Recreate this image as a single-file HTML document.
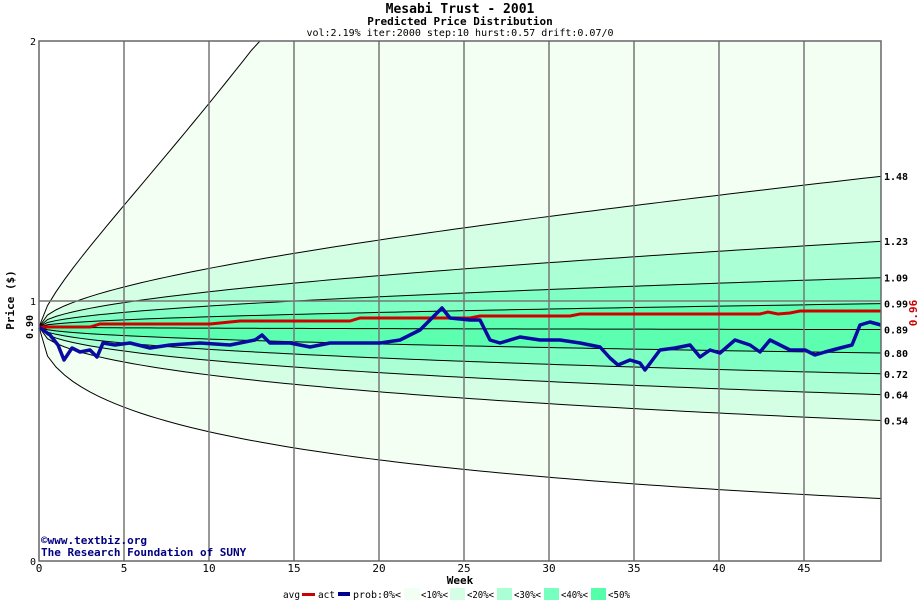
<!DOCTYPE html>
<html><head><meta charset="utf-8"><style>
body{margin:0;background:#fff;width:920px;height:600px;overflow:hidden}
text{font-family:"DejaVu Sans Mono","Liberation Mono",monospace}
</style></head><body>
<svg id="s" width="920" height="600" xmlns="http://www.w3.org/2000/svg">
<text x="460" y="13" text-anchor="middle" font-size="13" font-weight="bold">Mesabi Trust - 2001</text>
<text x="460" y="25" text-anchor="middle" font-size="11" font-weight="bold">Predicted Price Distribution</text>
<text x="460" y="36" text-anchor="middle" font-size="10">vol:2.19% iter:2000 step:10 hurst:0.57 drift:0.07/0</text>
<g id="bands"></g>
<g id="grid" stroke="#777" stroke-width="1.5"></g>
<polyline id="avg" fill="none" stroke="#d00000" stroke-width="3"/>
<polyline id="act" fill="none" stroke="#0a0aa0" stroke-width="3.5" stroke-linejoin="round"/>
<rect x="39" y="41" width="842" height="520" fill="none" stroke="#666" stroke-width="1.5"/>
<g font-size="10" font-weight="bold" id="rl"></g>
<text transform="translate(917,313) rotate(-90)" font-size="11" fill="#c00" font-weight="bold" text-anchor="middle">0.96</text>
<text transform="translate(14,300) rotate(-90)" text-anchor="middle" font-size="11" font-weight="bold">Price ($)</text>
<text transform="translate(33,327) rotate(-90)" text-anchor="middle" font-size="10" font-weight="bold">0.90</text>
<text x="33" y="45" font-size="10" text-anchor="middle">2</text>
<text x="33" y="305" font-size="10" text-anchor="middle">1</text>
<text x="33" y="565" font-size="10" text-anchor="middle">0</text>
<g id="xl" font-size="11" text-anchor="middle"></g>
<text x="460" y="584" text-anchor="middle" font-size="11" font-weight="bold">Week</text>
<text x="41" y="544" font-size="11" font-weight="bold" fill="#000080">©www.textbiz.org</text>
<text x="41" y="556" font-size="11" font-weight="bold" fill="#000080">The Research Foundation of SUNY</text>
<g font-size="10">
<text x="283" y="598" textLength="17" lengthAdjust="spacingAndGlyphs">avg</text><rect x="302" y="593" width="13" height="3" fill="#c00"/>
<text x="318" y="598" textLength="17" lengthAdjust="spacingAndGlyphs">act</text><rect x="338" y="592" width="12" height="4" fill="#000090"/>
<text x="353" y="598" textLength="48" lengthAdjust="spacingAndGlyphs">prob:0%&lt;</text><rect x="404" y="588" width="16" height="13" fill="#f3fff3"/>
<text x="421" y="598" textLength="27" lengthAdjust="spacingAndGlyphs">&lt;10%&lt;</text><rect x="450" y="588" width="15" height="13" fill="#d4ffe4"/>
<text x="467" y="598" textLength="27" lengthAdjust="spacingAndGlyphs">&lt;20%&lt;</text><rect x="497" y="588" width="15" height="13" fill="#aaffd4"/>
<text x="514" y="598" textLength="27" lengthAdjust="spacingAndGlyphs">&lt;30%&lt;</text><rect x="544" y="588" width="15" height="13" fill="#77ffbf"/>
<text x="561" y="598" textLength="27" lengthAdjust="spacingAndGlyphs">&lt;40%&lt;</text><rect x="591" y="588" width="15" height="13" fill="#55ffaa"/>
<text x="608" y="598" textLength="22" lengthAdjust="spacingAndGlyphs">&lt;50%</text>
</g>
</svg>
<script>
var ns="http://www.w3.org/2000/svg";
function X(w){return 39+17*w}function Y(v){return 561-260*v}
var zs=[1.99,0.497,0.312,0.191,0.095,-0.011,-0.118,-0.223,-0.341,-0.51,-1.32];
var ex=[0.68,0.5,0.5,0.5,0.5,0.5,0.5,0.5,0.5,0.5,0.5];
var P=zs.map(function(z,k){var a=[];for(var i=0;i<=99;i++){var w=i*0.5,t=Math.pow(w/49.5,ex[k]);var v=0.9*Math.exp(z*t);var y=Math.max(Y(v),41);a.push([X(w),y]);}return a;});
var cols=["#f3fff3","#d4ffe4","#aaffd4","#80ffc4","#5cffb0","#5cffb0","#80ffc4","#aaffd4","#d4ffe4","#f3fff3"];
var g=document.getElementById("bands");
for(var k=0;k<10;k++){var a=P[k],b=P[k+1].slice().reverse();var p=document.createElementNS(ns,"polygon");p.setAttribute("points",a.concat(b).map(q=>q.join(",")).join(" "));p.setAttribute("fill",cols[k]);g.appendChild(p);}
for(var k=0;k<11;k++){var p=document.createElementNS(ns,"polyline");p.setAttribute("points",P[k].map(q=>q.join(",")).join(" "));p.setAttribute("fill","none");p.setAttribute("stroke","#000");p.setAttribute("stroke-width","1");g.appendChild(p);}
var gr=document.getElementById("grid"),xl=document.getElementById("xl");
for(var w=5;w<50;w+=5){var l=document.createElementNS(ns,"line");l.setAttribute("x1",X(w));l.setAttribute("x2",X(w));l.setAttribute("y1",41);l.setAttribute("y2",561);gr.appendChild(l);}
var l=document.createElementNS(ns,"line");l.setAttribute("x1",39);l.setAttribute("x2",881);l.setAttribute("y1",301);l.setAttribute("y2",301);gr.appendChild(l);
for(var w=0;w<50;w+=5){var t=document.createElementNS(ns,"text");t.setAttribute("x",X(w));t.setAttribute("y",572);t.textContent=w;xl.appendChild(t);}
var rl=document.getElementById("rl");
[1.48,1.23,1.09,0.99,0.89,0.80,0.72,0.64,0.54].forEach(function(v){var t=document.createElementNS(ns,"text");t.setAttribute("x",884);t.setAttribute("y",Y(v)+4);t.textContent=v.toFixed(2);rl.appendChild(t);});
var av=[[39,327],[90,327],[100,324],[210,324],[240,321],[350,321],[360,318],[470,318],[480,316],[570,316],[580,314],[760,314],[768,312],[778,314],[790,313],[800,311],[881,311]];
document.getElementById("avg").setAttribute("points",av.map(q=>q.join(",")).join(" "));
var ac=[[39,327],[50,335],[58,345],[64,360],[72,348],[80,352],[90,350],[97,357],[103,343],[115,345],[130,343],[150,348],[170,345],[200,343],[230,345],[255,340],[262,335],[270,343],[290,343],[310,347],[330,343],[350,343],[380,343],[400,340],[420,330],[435,315],[442,308],[450,318],[470,320],[480,320],[490,340],[500,343],[520,337],[540,340],[560,340],[580,343],[600,347],[610,358],[618,365],[630,360],[640,363],[645,370],[660,350],[675,348],[690,345],[700,357],[710,350],[720,353],[735,340],[750,345],[760,352],[770,340],[790,350],[805,350],[815,355],[825,352],[840,348],[852,345],[860,325],[870,322],[881,325]];
document.getElementById("act").setAttribute("points",ac.map(q=>q.join(",")).join(" "));
</script>
</body></html>
